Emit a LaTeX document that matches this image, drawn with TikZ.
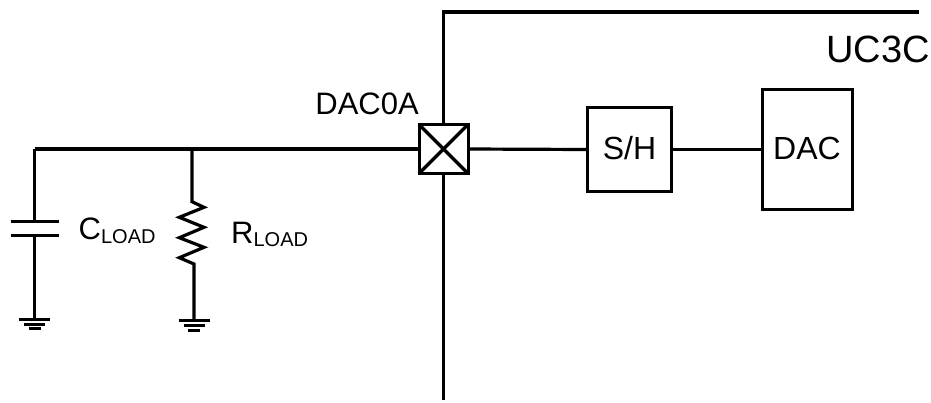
\documentclass[tikz,border=0pt]{standalone}
\usepackage{fontspec}
\setmainfont{Liberation Sans}
\usetikzlibrary{positioning}
\tikzstyle{block} = [draw, line width=3pt, rectangle, inner sep=0pt, outer sep=0pt, text height=19pt, text depth=0pt, font=\fontsize{32}{36}\selectfont]
\tikzstyle{label} = [inner sep=0pt, font=\fontsize{31}{34}\selectfont]
\tikzstyle{path} = [line width=3.2pt]
\tikzstyle{plate} = [line width=3pt]
\newcommand*{\sub}[1]{\raisebox{-3.5pt}{\fontsize{20}{22}\selectfont #1}}

\begin{document}
\begin{tikzpicture}[x=1pt, y=-1pt]
    \useasboundingbox (0,0) rectangle (931,402);

    % Blocks.
    \node (pad) [block, minimum width=49pt, minimum height=49pt] at (443.5,149) {};
    \node (sh) [block, minimum width=84pt, minimum height=84pt] at (629.5,149.5) {S/H};
    \node (dac) [block, minimum width=90pt, minimum height=120pt] at (807,149.5) {DAC};

    % Labels.
    \node (padlabel) [label, anchor=base east] at (419,114) {DAC0A};
    \node (chiplabel) [label, anchor=base east, font=\fontsize{38}{42}\selectfont] at (930,62.5) {UC3C};
    \node (cload) [label, anchor=base west] at (78.5,239.5) {C\sub{LOAD}};
    \node (rload) [label, anchor=base west] at (231,243) {R\sub{LOAD}};

    % Corners and ends.
    \coordinate (top) at (919,12);
    \coordinate (corner) at (443.5,12);
    \coordinate (bottom) at (443.5,400);
    \coordinate (left) at (34.5,149);
    \coordinate (tee) at (192,149);
    \coordinate (plate1) at (34.5,221.7);
    \coordinate (plate2) at (34.5,235.7);
    \coordinate (gnd1) at (34.5,319);
    \coordinate (res1) at (192,201.7);
    \coordinate (res2) at (194,264);
    \coordinate (gnd2) at (194,320.7);

    % Wires.
    \draw [path] (top) -- (corner) -- (pad.north);
    \draw [path] (pad.south) -- (bottom);
    \draw [path] (left) -- (pad.west);
    \draw [path] (pad.east) -- (sh.west);
    \draw [plate] (sh.east) -- (dac.west);
    \draw [path] (pad.north west) -- (pad.south east);
    \draw [path] (pad.north east) -- (pad.south west);

    % Capacitor.
    \draw [path] (plate1) -- (left);
    \draw [path] (plate2) -- (gnd1);
    \draw [plate] ([xshift=-24pt]plate1) -- ([xshift=24pt]plate1);
    \draw [plate] ([xshift=-24pt]plate2) -- ([xshift=24pt]plate2);

    % Resistor.
    \draw [path] (tee) -- (res1) -- (204,207.3) -- (179.3,217.3) -- (204,227.3) -- (179.3,237.7) -- (204,247.3) -- (179.3,257.7) -- (res2) -- (gnd2);

    % Grounds.
    \foreach\g in {gnd1,gnd2} {
        \draw [plate] ([xshift=-15.5pt]\g) -- ([xshift=15.5pt]\g);
        \draw [plate] ([xshift=-10.5pt,yshift=-5pt]\g) -- ([xshift=10.5pt,yshift=-5pt]\g);
        \draw [plate] ([xshift=-6pt,yshift=-9.5pt]\g) -- ([xshift=6pt,yshift=-9.5pt]\g);
    }
\end{tikzpicture}
\end{document}
